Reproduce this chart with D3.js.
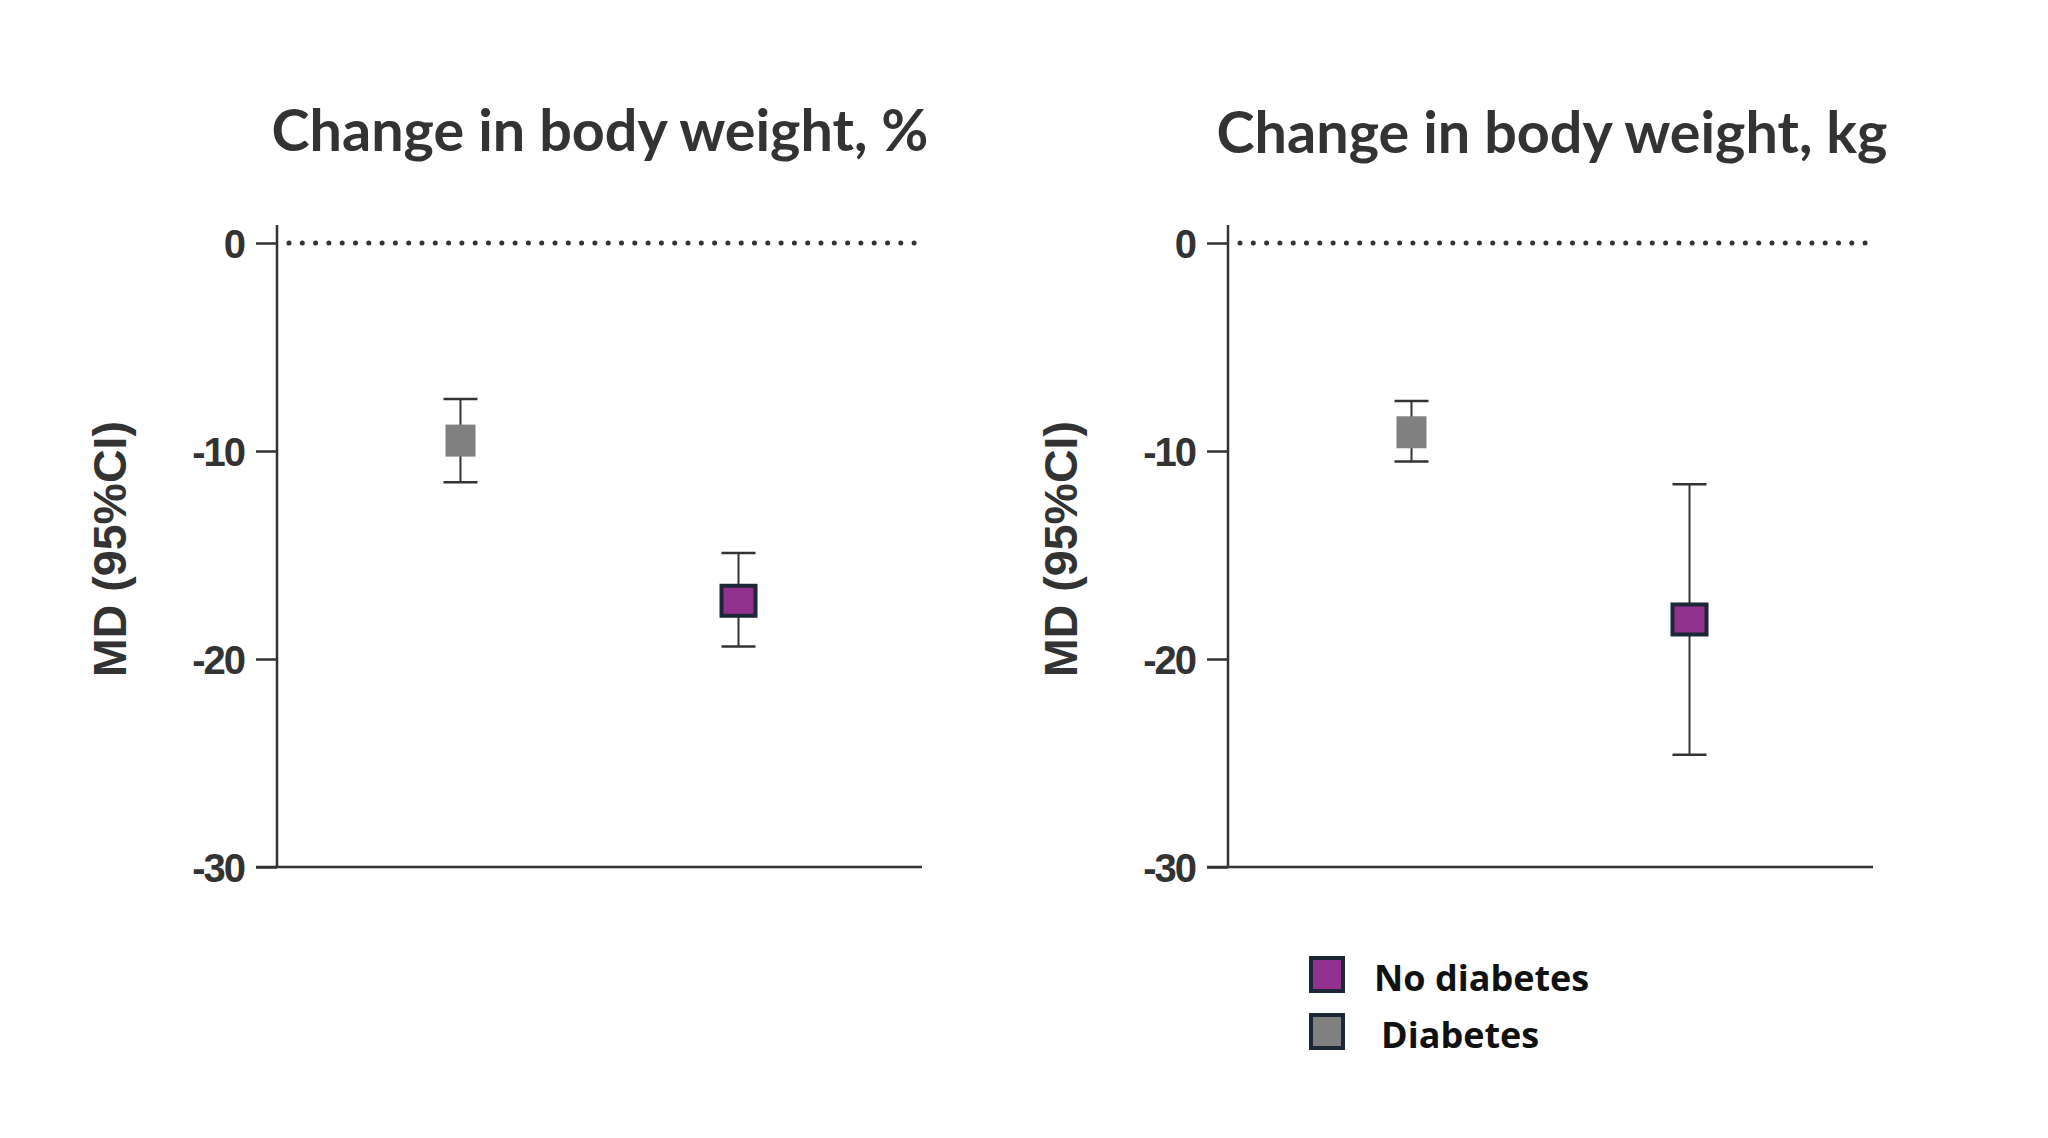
<!DOCTYPE html>
<html><head><meta charset="utf-8">
<script src="https://cdn.jsdelivr.net/npm/d3@7"></script>
<style>
html,body{margin:0;padding:0;background:#fff;}
svg{display:block;}
</style></head>
<body>
<svg id="chart" width="2048" height="1138"></svg>
<script>
// ---- data ----
const groups = ["Diabetes", "No diabetes"];
const panelTitles = ["Change in body weight, %", "Change in body weight, kg"];
const pctMean = [-9.5, -17.2];
const pctLow  = [-11.5, -19.4];
const pctHigh = [-7.5, -14.9];
const kgMean  = [-9.1, -18.1];
const kgLow   = [-10.5, -24.6];
const kgHigh  = [-7.6, -11.6];
const yTicks  = [0, -10, -20, -30];
const yLabel  = "MD (95%CI)";
const legendItems = ["No diabetes", "Diabetes"];

const colors = {"Diabetes": "#808080", "No diabetes": "#93318e"};
const ink = "#333333";

const svg = d3.select("#chart");

const panels = [
  {title: panelTitles[0], mean: pctMean, low: pctLow, high: pctHigh, x0: 277, x1: 922, titleX: 600, titleY: 151},
  {title: panelTitles[1], mean: kgMean,  low: kgLow,  high: kgHigh,  x0: 1228, x1: 1873, titleX: 1552, titleY: 153}
];

const yTop = 243, yBot = 867;

panels.forEach((p) => {
  const g = svg.append("g");
  const y = d3.scaleLinear().domain([-30, 0]).range([yBot, yTop]);
  const x = d3.scalePoint().domain(groups).range([p.x0, p.x1]).padding(0.66);

  // title
  g.append("text")
    .attr("x", p.titleX).attr("y", p.titleY)
    .attr("text-anchor", "middle")
    .attr("font-family", "Lato, 'Open Sans', sans-serif")
    .attr("font-weight", 700)
    .attr("font-size", 57.5)
    .attr("fill", ink)
    .text(p.title);

  // y axis label
  g.append("text")
    .attr("transform", `translate(${p.x0 - 151},${(yTop + yBot) / 2 - 6}) rotate(-90)`)
    .attr("text-anchor", "middle")
    .attr("font-family", "'Liberation Sans', Arial, sans-serif")
    .attr("font-weight", 700)
    .attr("font-size", 46.5)
    .attr("fill", ink)
    .text(yLabel);

  // y axis
  const axis = d3.axisLeft(y).tickValues(yTicks).tickSize(21).tickPadding(12)
    .tickFormat(d => String(d));
  const ag = g.append("g").attr("transform", `translate(${p.x0},0)`).call(axis);
  ag.select(".domain").remove();
  ag.selectAll(".tick line").attr("stroke", ink).attr("stroke-width", 2.5);
  ag.selectAll(".tick text")
    .attr("font-family", "'Liberation Sans', Arial, sans-serif")
    .attr("font-weight", 700)
    .attr("font-size", 40)
    .attr("letter-spacing", -2)
    .attr("fill", ink)
    .attr("dy", "0.36em");

  // vertical axis line
  g.append("line")
    .attr("x1", p.x0).attr("x2", p.x0)
    .attr("y1", y(0) - 18).attr("y2", y(-30))
    .attr("stroke", ink).attr("stroke-width", 2.5);
  // x axis line
  g.append("line")
    .attr("x1", p.x0 - 21).attr("x2", p.x1)
    .attr("y1", y(-30)).attr("y2", y(-30))
    .attr("stroke", ink).attr("stroke-width", 2.5);

  // dotted zero line
  g.append("line")
    .attr("x1", p.x0 + 12).attr("x2", p.x1)
    .attr("y1", y(0)).attr("y2", y(0))
    .attr("stroke", ink).attr("stroke-width", 5)
    .attr("stroke-linecap", "round")
    .attr("stroke-dasharray", "0 13.3");

  // error bars + markers
  groups.forEach((grp, i) => {
    const cx = x(grp);
    const capW = 34;
    g.append("line")
      .attr("x1", cx).attr("x2", cx)
      .attr("y1", y(p.high[i])).attr("y2", y(p.low[i]))
      .attr("stroke", ink).attr("stroke-width", 2);
    [p.high[i], p.low[i]].forEach(v => {
      g.append("line")
        .attr("x1", cx - capW / 2).attr("x2", cx + capW / 2)
        .attr("y1", y(v)).attr("y2", y(v))
        .attr("stroke", ink).attr("stroke-width", 2.5);
    });
    if (grp === "Diabetes") {
      g.append("rect")
        .attr("x", cx - 15).attr("y", y(p.mean[i]) - 16)
        .attr("width", 30).attr("height", 32)
        .attr("fill", colors[grp]);
    } else {
      g.append("rect")
        .attr("x", cx - 17).attr("y", y(p.mean[i]) - 15)
        .attr("width", 34).attr("height", 30)
        .attr("fill", colors[grp])
        .attr("stroke", "#1c2737").attr("stroke-width", 4);
    }
  });
});

// legend
const lg = svg.append("g");
legendItems.forEach((name, i) => {
  const yy = 958 + i * 57;
  lg.append("rect")
    .attr("x", 1311).attr("y", yy)
    .attr("width", 32).attr("height", 33)
    .attr("fill", colors[name])
    .attr("stroke", "#1c2737").attr("stroke-width", 4);
  lg.append("text")
    .attr("x", name === "Diabetes" ? 1381 : 1374)
    .attr("y", yy + 33)
    .attr("font-family", "'Open Sans', 'Noto Sans', sans-serif")
    .attr("font-weight", 700)
    .attr("font-size", 36)
    .attr("fill", "#111")
    .text(name);
});
</script>
</body></html>
